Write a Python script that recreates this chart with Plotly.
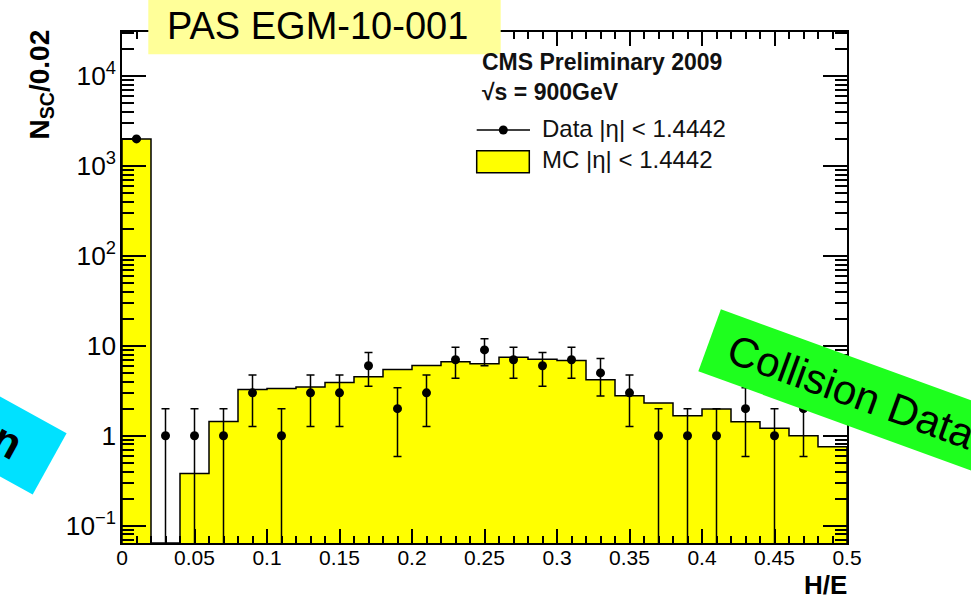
import numpy as np
import plotly.graph_objects as go

# H/E bin centres (bin width 0.02)
he_centres = [0.01, 0.03, 0.05, 0.07, 0.09, 0.11, 0.13, 0.15, 0.17, 0.19,
              0.21, 0.23, 0.25, 0.27, 0.29, 0.31, 0.33, 0.35, 0.37, 0.39,
              0.41, 0.43, 0.45, 0.47, 0.49]
bin_width = 0.02

# supercluster counts per bin
data_counts = [2000, 1, 1, 1, 3, 1, 3, 3, 6, 2,
               3, 7, 9, 7, 6, 7, 5, 3, 1, 1,
               1, 2, 1, 2, 0]
mc_counts = [2000, 0, 0.38, 1.44, 3.27, 3.35, 3.48, 3.91, 4.53, 5.46,
             6.04, 6.64, 6.3, 7.45, 7.1, 6.87, 4.19, 2.78, 2.31, 1.67,
             1.98, 1.43, 1.21, 1.0, 0.755]

x_ticks = [0, 0.05, 0.1, 0.15, 0.2, 0.25, 0.3, 0.35, 0.4, 0.45, 0.5]

# figure geometry (pixels)
W, H = 971, 597
L, R, T, B = 122, 124, 32, 54
PW, PH = W - L - R, H - T - B
Y_RANGE = [-1.193, 4.49]


def px(x):
    return (x - L) / PW


def py(y):
    return (H - B - y) / PH


FONT = "Liberation Sans, Arial, Helvetica, sans-serif"
YELLOW = "#FFFF00"

fig = go.Figure()

# MC histogram fill
fig.add_trace(go.Bar(
    x=he_centres, y=mc_counts, width=bin_width,
    marker=dict(color=YELLOW, line=dict(width=0)),
    showlegend=False, hoverinfo="skip",
))

# MC histogram outline (step)
floor = 10 ** Y_RANGE[0]
sx, sy = [0.0], [floor]
for c, v in zip(he_centres, mc_counts):
    h = v if v > 0 else floor
    sx += [c - bin_width / 2, c + bin_width / 2]
    sy += [h, h]
sx.append(x_ticks[-1])
sy.append(floor)
fig.add_trace(go.Scatter(
    x=sx, y=sy, mode="lines", line=dict(color="black", width=1.5),
    showlegend=False, hoverinfo="skip", cliponaxis=True,
))

# data points with Poisson errors
dx = [c for c, n in zip(he_centres, data_counts) if n > 0]
dy = [n for n in data_counts if n > 0]
derr = [float(np.sqrt(n)) for n in dy]
fig.add_trace(go.Scatter(
    x=dx, y=dy, mode="markers",
    marker=dict(color="black", size=9),
    error_y=dict(type="data", array=derr, symmetric=True,
                 color="black", thickness=1.5, width=4),
    showlegend=False,
))

axis_common = dict(
    showline=True, linecolor="black", linewidth=1.6, mirror="ticks",
    ticks="inside", tickcolor="black", tickwidth=1.5,
    showgrid=False, zeroline=False,
    tickfont=dict(family=FONT, size=21, color="black"),
)

fig.update_xaxes(
    range=[0, 0.5], tickvals=x_ticks, ticklen=14, ticklabelstandoff=-5,
    minor=dict(ticks="inside", dtick=0.01, ticklen=7, tickwidth=1.5,
               tickcolor="black", showgrid=False),
    **axis_common,
)
fig.update_yaxes(
    type="log", range=Y_RANGE, dtick=1, exponentformat="power", ticklen=24,
    minor=dict(ticks="inside", dtick="D1", ticklen=12, tickwidth=1.5,
               tickcolor="black", showgrid=False),
    **axis_common,
)

shapes = [
    # legend: data marker line
    dict(type="line", xref="paper", yref="paper",
         x0=px(476.7), x1=px(530), y0=py(130), y1=py(130),
         line=dict(color="black", width=1.5)),
    dict(type="circle", xref="paper", yref="paper",
         x0=px(503.3 - 4.5), x1=px(503.3 + 4.5), y0=py(130 + 4.5), y1=py(130 - 4.5),
         fillcolor="black", line=dict(color="black", width=0)),
    # legend: MC box
    dict(type="rect", xref="paper", yref="paper",
         x0=px(476.7), x1=px(529.3), y0=py(172.7), y1=py(150.7),
         fillcolor=YELLOW, line=dict(color="black", width=1.5)),
    # document label background
    dict(type="rect", xref="paper", yref="paper", layer="above",
         x0=px(148.3), x1=px(500.7), y0=py(54.3), y1=py(-2),
         fillcolor="#FFFF99", line=dict(width=0)),
]

annotations = [
    dict(text="PAS EGM-10-001", x=px(317), y=py(26), xanchor="center", yanchor="middle",
         font=dict(family=FONT, size=38, color="black")),
    dict(text="<b>CMS Preliminary 2009</b>", x=px(480), y=py(62), xanchor="left", yanchor="middle",
         font=dict(family=FONT, size=23, color="#111")),
    dict(text="<b>\u221as = 900GeV</b>", x=px(480), y=py(92), xanchor="left", yanchor="middle",
         font=dict(family=FONT, size=23, color="#111")),
    dict(text="Data |\u03b7| < 1.4442", x=px(540), y=py(128), xanchor="left", yanchor="middle",
         font=dict(family=FONT, size=24, color="#111")),
    dict(text="MC |\u03b7| < 1.4442", x=px(540), y=py(159), xanchor="left", yanchor="middle",
         font=dict(family=FONT, size=24, color="#111")),
    dict(text="<b>H/E</b>", x=px(849), y=py(585), xanchor="right", yanchor="middle",
         font=dict(family=FONT, size=26, color="black")),
    dict(text="<b>N<sub>SC</sub>/0.02</b>", x=px(21), y=py(28), xanchor="left", yanchor="top",
         textangle=-90, font=dict(family=FONT, size=28, color="black")),
    dict(text="\u00a0Collision Data\u00a0", x=px(850.5), y=py(391.7), xanchor="center", yanchor="middle",
         textangle=20, bgcolor="#1EFF1E", borderpad=9,
         font=dict(family=FONT, size=42, color="black")),
    dict(text="<b>Simulation</b>\u00a0\u00a0", x=px(-68.4), y=py(398.6), xanchor="center", yanchor="middle",
         textangle=29, bgcolor="#00E1FF", borderpad=10,
         font=dict(family=FONT, size=44, color="black")),
]
for a in annotations:
    a.update(xref="paper", yref="paper", showarrow=False)

fig.update_layout(
    width=W, height=H, autosize=False,
    margin=dict(l=L, r=R, t=T, b=B, pad=0),
    paper_bgcolor="white", plot_bgcolor="white",
    bargap=0, showlegend=False,
    shapes=shapes, annotations=annotations,
    font=dict(family=FONT),
)

fig.write_html("out.html")
